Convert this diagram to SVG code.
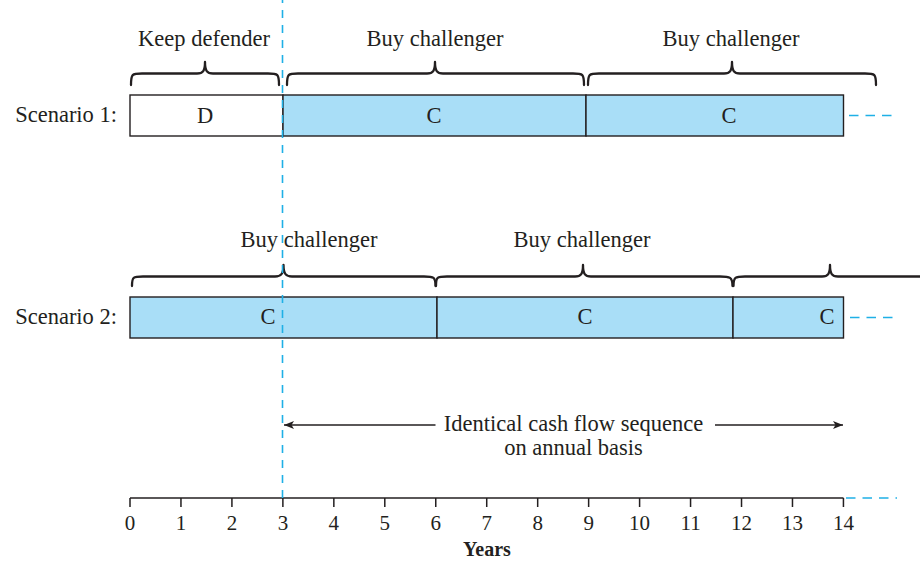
<svg xmlns="http://www.w3.org/2000/svg" width="920" height="563" viewBox="0 0 920 563" font-family="'Liberation Serif', 'DejaVu Serif', serif">
  <defs>
    <style>
      text { font-family: 'Liberation Serif', 'DejaVu Serif', serif; fill: #231f20; }
      .lbl { font-size: 22.5px; }
      .num { font-size: 21px; text-anchor: middle; }
      .mid { text-anchor: middle; }
      .box { stroke: #231f20; stroke-width: 1.4; }
      .c { fill: #a9def7; }
      .d { fill: #ffffff; }
      .brace { fill: none; stroke: #231f20; stroke-width: 2.3; stroke-linejoin: round; stroke-linecap: round; }
      .cont { fill: none; stroke: #1fb0e6; stroke-width: 1.6; stroke-dasharray: 9.5 7; }
      .axis { fill: none; stroke: #231f20; stroke-width: 1.5; }
      .arr { fill: none; stroke: #231f20; stroke-width: 1.3; }
    </style>
    <marker id="head" viewBox="0 0 10 8" refX="10" refY="4" markerWidth="10" markerHeight="8" markerUnits="userSpaceOnUse" orient="auto-start-reverse">
      <path d="M0,0 L10,4 L0,8 L2.5,4 Z" fill="#231f20"/>
    </marker>
  </defs>

  <rect width="920" height="563" fill="#ffffff"/>

  <!-- Scenario 1 -->
  <g id="scenario1">
    <text class="lbl" x="117" y="122" text-anchor="end">Scenario 1:</text>
    <g id="s1-defender">
      <rect class="box d" x="130" y="95" width="153" height="41"/>
      <text class="lbl mid" x="205" y="123">D</text>
    </g>
    <g id="s1-challenger-a">
      <rect class="box c" x="283" y="95" width="303" height="41"/>
      <text class="lbl mid" x="434" y="123">C</text>
    </g>
    <g id="s1-challenger-b">
      <rect class="box c" x="586" y="95" width="257.5" height="41"/>
      <text class="lbl mid" x="729" y="123">C</text>
    </g>
    <g id="s1-braces">
      <path class="brace" d="M131,85 C131,74 132,73.5 142,73.5 L197,73.5 C203,73.5 205,71 205,62 C205,71 207,73.5 213,73.5 L268,73.5 C278,73.5 279,74 279,85"/>
      <path class="brace" d="M287,85 C287,74 288,73.5 298,73.5 L427,73.5 C433,73.5 435,71 435,62 C435,71 437,73.5 443,73.5 L573,73.5 C583,73.5 584,74 584,85"/>
      <path class="brace" d="M588,85 C588,74 589,73.5 599,73.5 L724,73.5 C730,73.5 732,71 732,62 C732,71 734,73.5 740,73.5 L865,73.5 C875,73.5 876,74 876,85"/>
      <text class="lbl mid" x="204" y="46">Keep defender</text>
      <text class="lbl mid" x="435" y="46">Buy challenger</text>
      <text class="lbl mid" x="731" y="46">Buy challenger</text>
    </g>
    <line class="cont" x1="849" y1="115.5" x2="893" y2="115.5"/>
  </g>

  <!-- Scenario 2 -->
  <g id="scenario2">
    <text class="lbl" x="117" y="324" text-anchor="end">Scenario 2:</text>
    <g id="s2-challenger-a">
      <rect class="box c" x="130" y="297" width="307" height="41"/>
      <text class="lbl mid" x="268" y="324">C</text>
    </g>
    <g id="s2-challenger-b">
      <rect class="box c" x="437" y="297" width="296" height="41"/>
      <text class="lbl mid" x="585" y="324">C</text>
    </g>
    <g id="s2-challenger-c">
      <rect class="box c" x="733" y="297" width="110.5" height="41"/>
      <text class="lbl mid" x="827" y="324">C</text>
    </g>
    <g id="s2-braces">
      <path class="brace" d="M132,286 C132,277 133,276.5 143,276.5 L275,276.5 C281,276.5 283.5,274 283.5,265 C283.5,274 286,276.5 292,276.5 L424,276.5 C434,276.5 435.5,277 435.5,286"/>
      <path class="brace" d="M436,286 C436,277 437,276.5 447,276.5 L575,276.5 C581,276.5 583,274 583,265 C583,274 585,276.5 591,276.5 L720,276.5 C730,276.5 732.5,277 732.5,286"/>
      <path class="brace" d="M733.5,286 C733.5,277 735,276.5 745,276.5 L822,276.5 C828,276.5 830,274 830,265 C830,274 832,276.5 838,276.5 L925,276.5"/>
      <text class="lbl mid" x="309" y="247">Buy challenger</text>
      <text class="lbl mid" x="582" y="247">Buy challenger</text>
    </g>
    <line class="cont" x1="850" y1="317.5" x2="893" y2="317.5"/>
  </g>

  <!-- Comparison arrow -->
  <g id="equivalence">
    <line class="arr" x1="435.5" y1="425" x2="284" y2="425" marker-end="url(#head)"/>
    <line class="arr" x1="715" y1="425" x2="843" y2="425" marker-end="url(#head)"/>
    <text class="lbl mid" x="573.5" y="431">Identical cash flow sequence</text>
    <text class="lbl mid" x="573.5" y="455">on annual basis</text>
  </g>

  <!-- Time axis -->
  <g id="axis">
    <line class="axis" x1="130" y1="498" x2="843.5" y2="498"/>
    <path class="axis" d="M130,498v9 M180.96,498v9 M231.92,498v9 M282.88,498v9 M333.84,498v9 M384.8,498v9 M435.76,498v9 M486.72,498v9 M537.68,498v9 M588.64,498v9 M639.6,498v9 M690.56,498v9 M741.52,498v9 M792.48,498v9 M843.44,498v9"/>
    <g class="numbers">
      <text class="num" x="130" y="530">0</text>
      <text class="num" x="180.96" y="530">1</text>
      <text class="num" x="231.92" y="530">2</text>
      <text class="num" x="282.88" y="530">3</text>
      <text class="num" x="333.84" y="530">4</text>
      <text class="num" x="384.8" y="530">5</text>
      <text class="num" x="435.76" y="530">6</text>
      <text class="num" x="486.72" y="530">7</text>
      <text class="num" x="537.68" y="530">8</text>
      <text class="num" x="588.64" y="530">9</text>
      <text class="num" x="639.6" y="530">10</text>
      <text class="num" x="690.56" y="530">11</text>
      <text class="num" x="741.52" y="530">12</text>
      <text class="num" x="792.48" y="530">13</text>
      <text class="num" x="843.44" y="530">14</text>
    </g>
    <text x="487" y="556" text-anchor="middle" font-size="20" font-weight="bold">Years</text>
    <line class="cont" x1="846" y1="498" x2="897" y2="498"/>
  </g>

  <!-- Replacement point marker at year 3 -->
  <line class="cont" x1="282.5" y1="-5" x2="282.5" y2="498" style="stroke-dasharray: 8 7"/>
</svg>
